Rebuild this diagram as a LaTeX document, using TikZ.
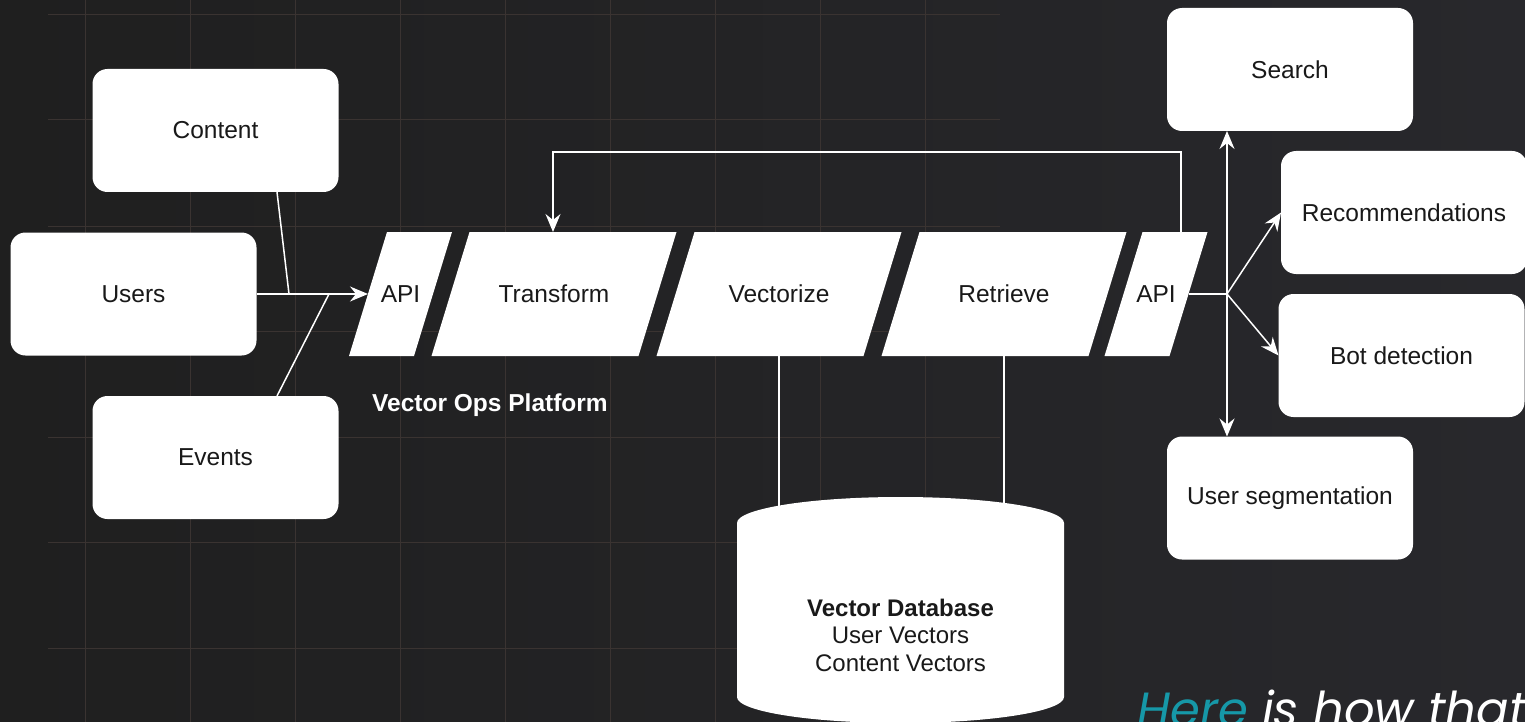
\documentclass[tikz,border=0pt]{standalone}
\usepackage{fontspec}
\setmainfont{Liberation Sans}
\newfontfamily\poppins{Poppins}
\usetikzlibrary{arrows.meta,calc}
\pgfdeclarelayer{canvas}
\pgfdeclarelayer{slabs}
\pgfsetlayers{canvas,slabs,main}
\definecolor{bgleft}{RGB}{31,31,31}
\definecolor{bgmid}{RGB}{43,41,41}
\definecolor{bgright}{RGB}{40,40,44}
\definecolor{gridcol}{RGB}{58,51,49}
\definecolor{boxtext}{RGB}{25,25,25}
\definecolor{hereteal}{RGB}{22,152,168}

\begin{document}
\begin{tikzpicture}[x=1pt, y=-1pt,
  box/.style={rectangle, rounded corners=15pt, fill=white, text=boxtext,
    minimum width=246pt, minimum height=123pt, inner sep=0pt, outer sep=0pt,
    font=\fontsize{24.5}{28}\selectfont},
  slab/.style={rectangle, text=boxtext, minimum height=124pt,
    inner sep=0pt, outer sep=0pt, font=\fontsize{24.5}{28}\selectfont},
  wire/.style={draw=white, line width=1.5pt},
  arr/.style={wire, -{Stealth[length=18pt, width=15pt, inset=6pt]}}]
\useasboundingbox (0,0) rectangle (1525,722);
\begin{pgfonlayer}{canvas}
\shade[left color=bgleft, middle color=bgmid, right color=bgright] (0,0) rectangle (1525,722);
\foreach \gx in {85,190,...,925} \draw[gridcol, line width=1pt] (\gx,0) -- (\gx,722);
\foreach \gy in {15,120,226,331,437,542,648} \draw[gridcol, line width=1pt] (48,\gy) -- (1000,\gy);
\end{pgfonlayer}
\clip (0,0) rectangle (1525,722);

% sources
\node[box] (content) at (215.5,130.5) {Content};
\node[box] (users)   at (133.5,294)   {Users};
\node[box] (events)  at (215.5,457.5) {Events};

% platform
\node[slab, minimum width=65pt]  (apiin)     at (400.5,294) {API};
\node[slab, minimum width=207pt] (transform) at (554,294)   {Transform};
\node[slab, minimum width=207pt] (vectorize) at (779,294)   {Vectorize};
\node[slab, minimum width=207pt] (retrieve)  at (1004,294)  {Retrieve};
\node[slab, minimum width=65pt]  (apiout)    at (1156,294)  {API};
\begin{pgfonlayer}{slabs}
\foreach \s in {apiin,transform,vectorize,retrieve,apiout}
  \fill[white] ($(\s.south west)+(-19,0)$) -- ($(\s.south east)+(-19,0)$)
    -- ($(\s.north east)+(19,0)$) -- ($(\s.north west)+(19,0)$) -- cycle;
\end{pgfonlayer}
\node[text=white, font=\bfseries\fontsize{24.5}{28}\selectfont] (platform) at (490,405) {Vector Ops Platform};

% consumers
\node[box] (search)  at (1290,69.5)    {Search};
\node[box] (recomm)  at (1404,212.5)   {Recommendations};
\node[box] (botdet)  at (1401.5,355.5) {Bot detection};
\node[box] (userseg) at (1290,498)     {User segmentation};

% inputs
\coordinate (joinc) at (289,294);
\coordinate (joine) at (329,294);
\draw[arr] (users.east) -- (apiin.west);
\draw[wire] ($(content.south east)!0.25!(content.south west)$) -- (joinc);
\draw[wire] ($(events.north east)!0.25!(events.north west)$) -- (joine);

% loop back to transform
\coordinate (loopr) at (1181,152);
\coordinate (loopl) at (553,152);
\draw[arr] (loopr |- apiout.north) -- (loopr) -- (loopl) -- (loopl |- transform.north);

% outputs
\coordinate (fork) at (1227,294);
\draw[wire] (apiout.east) -- (fork);
\draw[arr] (fork) -- (fork |- search.south);
\draw[arr] (fork) -- (fork |- userseg.north);
\draw[arr] (fork) -- (recomm.west);
\draw[arr] (fork) -- (botdet.west);

% database
\coordinate (dbtop) at (900.5,523);
\draw[wire] (vectorize.south) -- (vectorize.south |- dbtop);
\draw[wire] (retrieve.south) -- (retrieve.south |- dbtop);
\fill[white] (737,523) arc[start angle=180, end angle=360, x radius=163.5, y radius=26]
  -- (1064,697) arc[start angle=0, end angle=180, x radius=163.5, y radius=26] -- cycle;
\node[align=center, text=boxtext, font=\fontsize{24}{27.5}\selectfont] (vdb) at (900.5,635)
  {\textbf{Vector Database}\\User Vectors\\Content Vectors};

\node[anchor=base west, inner sep=0pt, text=white, font=\poppins\itshape\fontsize{48}{54}\selectfont] (tagline)
  at (1137,726) {\textcolor{hereteal}{Here} is how that};
\end{tikzpicture}
\end{document}
